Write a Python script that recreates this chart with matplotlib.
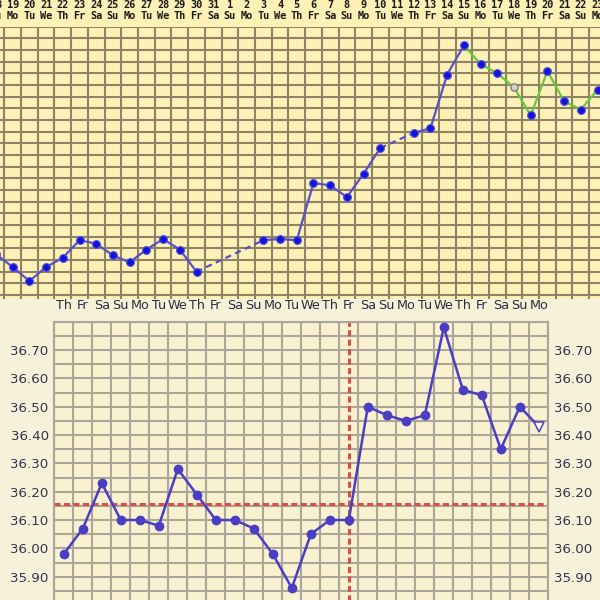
import matplotlib
matplotlib.use("Agg")
import matplotlib.pyplot as plt
import numpy as np
from matplotlib.patches import Rectangle
from matplotlib.transforms import blended_transform_factory

# --- верхний график (скриншот 1) ---
top_days = ["18", "19", "20", "21", "22", "23", "24", "25", "26", "27", "28", "29",
            "30", "31", "1", "2", "3", "4", "5", "6", "7", "8", "9", "10", "11",
            "12", "13", "14", "15", "16", "17", "18", "19", "20", "21", "22", "23"]
top_wd = ["Su", "Mo", "Tu", "We", "Th", "Fr", "Sa", "Su", "Mo", "Tu", "We", "Th",
          "Fr", "Sa", "Su", "Mo", "Tu", "We", "Th", "Fr", "Sa", "Su", "Mo", "Tu", "We",
          "Th", "Fr", "Sa", "Su", "Mo", "Tu", "We", "Th", "Fr", "Sa", "Su", "Mo"]
top_temps = [97.25, 97.14, 97.02, 97.14, 97.22, 97.37, 97.34, 97.24, 97.18, 97.29,
             97.38, 97.29, 97.10, None, None, None, 97.37, 97.38, 97.37, 97.86,
             97.84, 97.74, 97.94, 98.16, None, 98.29, 98.33, 98.79, 99.04, 98.88,
             98.80, 98.68, 98.44, 98.82, 98.56, 98.49, 98.66]
top_green_from = 28   # с пика (15-е) линия зелёная
top_hollow = [31]     # 18-е: пустой маркер

# --- нижний график (скриншот 2) ---
bot_wd = ["Th", "Fr", "Sa", "Su", "Mo", "Tu", "We", "Th", "Fr", "Sa", "Su", "Mo", "Tu",
          "We", "Th", "Fr", "Sa", "Su", "Mo", "Tu", "We", "Th", "Fr", "Sa", "Su", "Mo"]
bot_temps = [35.98, 36.07, 36.23, 36.10, 36.10, 36.08, 36.28, 36.19, 36.10, 36.10,
             36.07, 35.98, 35.86, 36.05, 36.10, 36.10, 36.50, 36.47, 36.45, 36.47,
             36.78, 36.56, 36.54, 36.35, 36.50, 36.43]
coverline = 36.155
ovulation_idx = 15

W = 600.0
fig = plt.figure(figsize=(6, 6), dpi=100, facecolor="#fdf1b6")
fig.add_artist(Rectangle((0, 0), 1, 301 / W, transform=fig.transFigure,
                         color="#f6f2da", zorder=-1))

# ---------- верх ----------
col_w = 16.71
x0_px = 12.7 - col_w            # центр первой колонки (18-е), частично за краем
ax1 = fig.add_axes([0, 1 - 299 / W, 1, (299 - 26.7) / W])
ax1.set_facecolor("#fdf1b6")
ax1.set_xticks(np.arange(-0.5, len(top_days) + 1), minor=True)
ax1.set_yticks(np.arange(96.9, 99.21, 0.1), minor=True)
ax1.set_xticks([])
ax1.set_yticks([])
ax1.set_xlim((0 - x0_px) / col_w, (W - x0_px) / col_w)
ax1.set_ylim(99.2 - (299 - 26.7) / 116.67, 99.2)
ax1.grid(which="minor", color="#8d8466", linewidth=1.5)
ax1.tick_params(which="both", length=0)
for s in ax1.spines.values():
    s.set_visible(False)

xs = np.arange(len(top_temps))
ys = np.array([np.nan if t is None else t for t in top_temps])
blue_line = "#5a4fc8"
green_line = "#66c83a"

# сплошные участки
yb = ys.copy()
yb[top_green_from + 1:] = np.nan
ax1.plot(xs, yb, color=blue_line, lw=1.6, zorder=3)
yg = ys.copy()
yg[:top_green_from] = np.nan
ax1.plot(xs, yg, color=green_line, lw=1.6, zorder=3)
# пунктир через пропуски
valid = np.where(~np.isnan(ys))[0]
for a, b in zip(valid[:-1], valid[1:]):
    if b - a > 1:
        ax1.plot([a, b], [ys[a], ys[b]], color=blue_line, lw=1.6,
                 ls=(0, (2.8, 2.0)), zorder=3)
for i in valid:
    if i in top_hollow:
        ax1.plot(i, ys[i], "o", ms=5.2, mfc="#d6d6c6", mec="#85858c", mew=1.1, zorder=4)
    else:
        ax1.plot(i, ys[i], "o", ms=5.6, mfc="#1414d8", mec="#5050e0", mew=0.8, zorder=4)

tr1 = blended_transform_factory(ax1.transData, fig.transFigure)
for i, (d, w) in enumerate(zip(top_days, top_wd)):
    ax1.text(i, 1 - 5.5 / W, d, transform=tr1, ha="center", va="center",
             family="DejaVu Sans Mono", weight="bold", fontsize=7.4, color="#1a1a1a",
             clip_on=False)
    ax1.text(i, 1 - 16 / W, w, transform=tr1, ha="center", va="center",
             family="DejaVu Sans Mono", weight="bold", fontsize=7.4, color="#1a1a1a",
             clip_on=False)

# ---------- низ ----------
y_top, y_bot = 36.80, 35.70
h_px = (y_top - y_bot) / 0.1 * 28.33
ax2 = fig.add_axes([54.3 / W, 1 - (321.7 + h_px) / W, 494 / W, h_px / W])
ax2.set_facecolor("#f9f1cf")
n = len(bot_temps)
ax2.set_xticks(np.arange(-0.5, n), minor=True)
ax2.set_xticks([])
major = np.round(np.arange(35.8, 36.75, 0.1), 2)
ax2.set_yticks(major)
ax2.set_yticklabels([f"{v:.2f}" for v in major])
ax2.set_yticks(np.arange(y_bot, y_top + 0.001, 0.05), minor=True)
ax2.set_xlim(-0.5, n - 0.5)
ax2.set_ylim(y_bot, y_top)
ax2.grid(which="both", color="#aaa699", linewidth=1.5)
ax2.tick_params(which="both", length=0, labelleft=True, labelright=True,
                labelsize=9.6, labelcolor="#34344a", pad=4)
for s in ax2.spines.values():
    s.set_color("#aaa699")
    s.set_linewidth(1.5)

ax2.axhline(coverline, color="#d9504a", lw=2.2, ls=(0, (2.0, 1.1)), zorder=2)
ax2.axvline(ovulation_idx, color="#d9504a", lw=2.2, ls=(0, (2.0, 1.1)), zorder=2)

bx = np.arange(n)
ax2.plot(bx, bot_temps, color="#4a3ec4", lw=1.8, zorder=3)
ax2.plot(bx[:-1], bot_temps[:-1], "o", ms=6, color="#4a3ec4", zorder=4)
ax2.plot(bx[-1], bot_temps[-1], "v", ms=7.5, mfc="#ffffff", mec="#4a3ec4", mew=1.1, zorder=4)

tr2 = blended_transform_factory(ax2.transData, fig.transFigure)
for i, w in enumerate(bot_wd):
    ax2.text(i, 1 - 305.7 / W, w, transform=tr2, ha="center", va="center",
             fontsize=9.2, color="#2a2a40", clip_on=False)

plt.savefig("out.png", dpi=100, facecolor=fig.get_facecolor())
